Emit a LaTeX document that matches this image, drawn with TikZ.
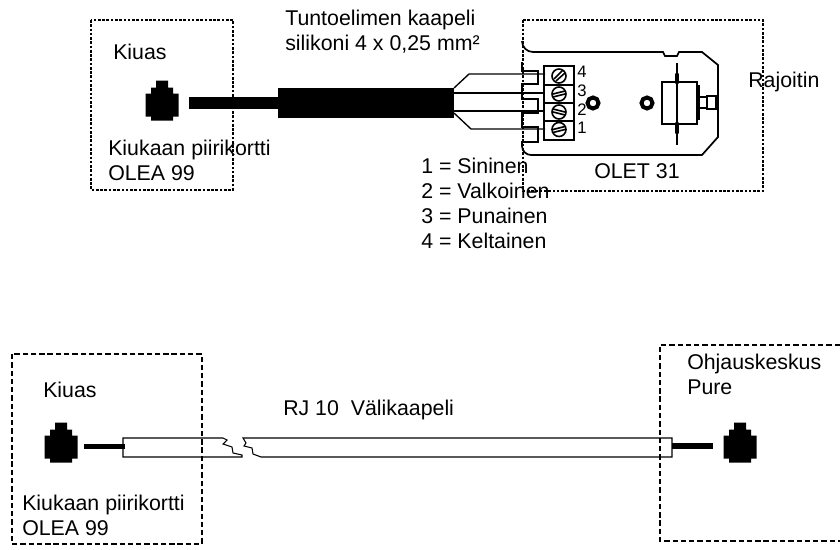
\documentclass[tikz,border=0pt]{standalone}
\usepackage{fontspec}
\setsansfont{Liberation Sans}
\usetikzlibrary{positioning}

\tikzset{
    txt/.style={anchor=west,inner sep=0pt,align=left},
    smalltxt/.style={anchor=west,inner sep=0pt,font=\sffamily\fontsize{12.5}{14}\selectfont},
    dotbox/.style={line width=1pt,dash pattern=on 2pt off 1.2pt},
    dashbox/.style={line width=1pt,dash pattern=on 4pt off 2.2pt},
    part/.style={line width=1.3pt},
    thinline/.style={line width=0.8pt},
    pics/jack/.style={code={
        \fill (-6,-20) -- (6,-20) -- (6,-13) -- (11,-13) -- (11,-7) -- (16.5,-7) -- (16.5,16)
            -- (11,16) -- (11,20) -- (-11,20) -- (-11,16) -- (-16.5,16) -- (-16.5,-7)
            -- (-11,-7) -- (-11,-13) -- (-6,-13) -- cycle;
    }},
    pics/screw/.style={code={
        \draw [line width=1.2pt,fill=white] (0,0) circle (7);
        \draw [line width=1.2pt] (-6,#1-1.5) -- (6,-#1-1.5);
        \draw [line width=1.2pt] (-6,#1+1.5) -- (6,-#1+1.5);
    }}
}

\begin{document}
\begin{tikzpicture}[x=0.75pt,y=-0.75pt,font=\sffamily\fontsize{16}{18.75}\selectfont]
    \useasboundingbox (0,0) rectangle (840,550);
    % upper cable
    \pic at (162,100.5) {jack};
    \fill (189,97) rectangle (278,109);
    \fill (278,88) rectangle (454,118);
    % wires
    \draw [thinline,line width=1pt] (454,88) -- (469,74) -- (545,74);
    \draw [thinline,line width=1pt] (454,93) -- (545,93);
    \draw [thinline,line width=1pt] (454,111) -- (545,111);
    \draw [thinline,line width=1pt] (454,113) -- (471,129) -- (545,129);
    % plate
    \draw [part] (522,62) -- (522,71) -- (538,71) -- (538,84) -- (522,84) -- (522,99) -- (538,99)
        -- (538,113) -- (522,113) -- (522,127) -- (538,127) -- (538,142) -- (522,142) -- (522,146)
        arc (180:90:9) -- (702,155) -- (718,137) -- (718,65) -- (702,52) -- (679,52) -- (677,56)
        -- (665,56) -- (663,52) -- (533,52) arc (90:180:11);
    % terminals
    \draw [part] (544,66) rectangle (574,140);
    \draw [part] (544,85) -- (574,85);
    \draw [part] (544,103) -- (574,103);
    \draw [part] (544,121) -- (574,121);
    \draw [line width=1.2pt] (559,76) circle (7);
    \draw [line width=1.2pt] (554,79) -- (563,70);
    \draw [line width=1.2pt] (556,81) -- (565,73);
    \pic at (559,94) {screw={1.5}};
    \pic at (559,112) {screw={-1.5}};
    \pic at (559,129.5) {screw={1.5}};
    \node [smalltxt] (T4) at (577,72) {4};
    \node [smalltxt] (T3) at (577,91) {3};
    \node [smalltxt] (T2) at (577,110) {2};
    \node [smalltxt] (T1) at (577,128) {1};
    \draw [line width=3pt] (593,103) circle (5.5);
    \draw [line width=3pt] (647,103) circle (5.5);
    % limiter
    \draw [part] (662,82) rectangle (697,124);
    \draw [part] (677,63) -- (677,145);
    \draw [line width=3.5pt,line cap=round] (677,75) -- (677,82);
    \draw [line width=3.5pt,line cap=round] (677,124) -- (677,132);
    \fill (697,85) rectangle (699.5,120);
    \draw [part] (699,97) rectangle (707,108);
    \draw [part] (707,96) rectangle (716,109);
    % boxes
    \draw [dotbox] (91,20) rectangle (233,190);
    \draw [dotbox] (523,20) rectangle (763,191);
    % upper labels
    \node [txt] (Kaapeli) at (285,32) {Tuntoelimen kaapeli\\silikoni 4 x 0,25 mm²};
    \node [txt] (Kiuas) at (113,52) {Kiuas};
    \node [txt] (Kortti) at (108,160) {Kiukaan piirikortti\\OLEA 99};
    \node [txt] (Varit) at (421,203) {1 = Sininen\\2 = Valkoinen\\3 = Punainen\\4 = Keltainen};
    \node [txt] (Olet) at (594,171) {OLET 31};
    \node [txt] (Rajoitin) at (748,82) {Rajoitin};
    % lower cable
    \pic at (61,442.5) {jack};
    \pic at (740,442.5) {jack};
    \fill (84,444) rectangle (125,449);
    \fill (672,443) rectangle (713,449);
    \draw [thinline] (223,438) -- (123,438) -- (123,457) -- (242,457) -- (242,455) -- (233,453)
        -- (232,447) -- (223,444) -- (227,440) -- cycle;
    \draw [thinline] (243,438) -- (672,438) -- (672,457) -- (261,457) -- (253,454) -- (252,448)
        -- (244,446) -- (246,443) -- cycle;
    % lower boxes
    \draw [dashbox] (12,354) rectangle (202,544);
    \draw [dashbox] (840,345) -- (660,345) -- (660,541) -- (840,541);
    % lower labels
    \node [txt] (KiuasB) at (43,390) {Kiuas};
    \node [txt] (KorttiB) at (22,515) {Kiukaan piirikortti\\OLEA 99};
    \node [txt] (Vali) at (283,410) {RJ 10~~Välikaapeli};
    \node [txt] (Ohjaus) at (687,374) {Ohjauskeskus\\Pure};
\end{tikzpicture}
\end{document}
